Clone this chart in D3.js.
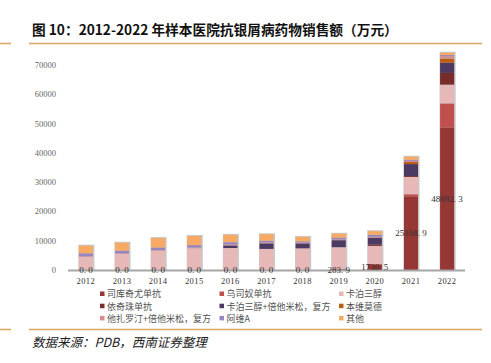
<!DOCTYPE html>
<html>
<head>
<meta charset="utf-8">
<script src="https://cdn.jsdelivr.net/npm/d3@7"></script>
<style>
  body { margin: 0; background: #fff; }
  svg { display: block; }
</style>
</head>
<body>
<svg id="chart" width="491" height="363"></svg>
<script>
const years = ['2012','2013','2014','2015','2016','2017','2018','2019','2020','2021','2022'];
const seriesNames = ['司库奇尤单抗','乌司奴单抗','卡泊三醇','依奇珠单抗','卡泊三醇+倍他米松，复方','本维莫德','他扎罗汀+倍他米松，复方','阿维A','其他'];
const colors = ['#953735','#c0504d','#e6b9b8','#772c2a','#4d3a63','#bb5d12','#d98c8a','#9585c0','#f8a963'];

// values in 万元, one array per series
const secukinumab = [0,0,0,0,0,0,0,283.9,1730.5,25168.9,48692.3];
const ustekinumab = [0,0,0,0,0,0,0,0,300,700,8200];
const calcipotriol = [4500,5500,6600,7400,7500,7200,7400,7500,6200,5900,6400];
const ixekizumab = [0,0,0,0,0,0,0,0,400,300,4000];
const calciBeta = [0,0,0,0,900,1900,1700,2400,2400,4100,3500];
const benvitimod = [0,0,0,0,0,0,0,0,0,700,1400];
const tazaBeta = [200,200,200,300,300,300,300,300,300,400,800];
const acitretin = [1000,900,900,800,800,600,400,600,700,400,400];
const others = [2600,2700,3200,3100,2500,2200,1500,1300,1200,1000,800];
const yTicks = [0,10000,20000,30000,40000,50000,60000,70000];

const allSeries = [secukinumab, ustekinumab, calcipotriol, ixekizumab, calciBeta, benvitimod, tazaBeta, acitretin, others];

const svg = d3.select('#chart');

// title and rules
svg.append('text')
    .attr('x', 32).attr('y', 35)
    .attr('font-family', 'Noto Sans CJK SC')
    .attr('font-weight', 'bold')
    .attr('font-size', 13.7)
    .attr('fill', '#111')
    .text('图 10：2012-2022 年样本医院抗银屑病药物销售额（万元）');

[43.5, 329.5].forEach(yy => {
    svg.append('line').attr('x1', 0).attr('x2', 11).attr('y1', yy).attr('y2', yy)
        .attr('stroke', '#d9a35e').attr('stroke-width', 1.5);
    svg.append('line').attr('x1', 29).attr('x2', 482).attr('y1', yy).attr('y2', yy)
        .attr('stroke', '#d9a35e').attr('stroke-width', 1.5);
});

svg.append('text')
    .attr('x', 32).attr('y', 347)
    .attr('font-family', 'Noto Sans CJK SC')
    .attr('font-style', 'italic')
    .attr('font-size', 12.5)
    .attr('fill', '#222')
    .text('数据来源：PDB，西南证券整理');

// scales
const x = d3.scaleBand()
    .domain(years)
    .range([68, 465])
    .paddingInner(0.61)
    .paddingOuter(0.3);

const y = d3.scaleLinear()
    .domain([0, 70000])
    .range([270, 65]);

// stack
const table = years.map((yr, i) => {
    const row = { year: yr };
    seriesNames.forEach((s, j) => { row[s] = allSeries[j][i]; });
    return row;
});
const stacked = d3.stack().keys(seriesNames)(table);

// bar shadow / outline
svg.append('g').selectAll('rect')
    .data(table)
    .enter().append('rect')
    .attr('x', d => x(d.year) - 0.5)
    .attr('y', d => y(d3.sum(seriesNames, s => d[s])) - 1)
    .attr('width', x.bandwidth() + 2)
    .attr('height', d => 270 - y(d3.sum(seriesNames, s => d[s])) + 1)
    .attr('fill', '#c9c9c9');

const layers = svg.append('g').selectAll('g')
    .data(stacked)
    .enter().append('g')
    .attr('fill', (d, i) => colors[i]);

layers.selectAll('rect')
    .data(d => d)
    .enter().append('rect')
    .attr('x', d => x(d.data.year))
    .attr('y', d => y(d[1]))
    .attr('width', x.bandwidth())
    .attr('height', d => y(d[0]) - y(d[1]));

// y axis labels (no line)
svg.append('g').selectAll('text')
    .data(yTicks)
    .enter().append('text')
    .attr('x', 56)
    .attr('y', d => y(d) + 3)
    .attr('text-anchor', 'end')
    .attr('font-family', 'Liberation Serif')
    .attr('font-size', 8.5)
    .attr('fill', '#666')
    .text(d => d);

// x axis
svg.append('line')
    .attr('x1', 68).attr('x2', 465)
    .attr('y1', 270.5).attr('y2', 270.5)
    .attr('stroke', '#a6a6a6').attr('stroke-width', 1.8);

svg.append('g').selectAll('text')
    .data(years)
    .enter().append('text')
    .attr('x', d => x(d) + x.bandwidth() / 2)
    .attr('y', 284)
    .attr('text-anchor', 'middle')
    .attr('font-family', 'Liberation Serif')
    .attr('font-size', 8.5)
    .attr('fill', '#333')
    .attr('letter-spacing', 0.4)
    .text(d => d);

// data labels of first series
svg.append('g').selectAll('text')
    .data(stacked[0])
    .enter().append('text')
    .attr('x', d => x(d.data.year) + x.bandwidth() / 2)
    .attr('y', d => (y(d[0]) + y(d[1])) / 2 + 3)
    .attr('text-anchor', 'middle')
    .attr('font-family', 'Liberation Serif')
    .attr('font-size', 9)
    .attr('fill', '#333')
    .text(d => d3.format('.1f')(d[1] - d[0]).replace('.', '. '));

// legend
const legend = svg.append('g').selectAll('g')
    .data(seriesNames)
    .enter().append('g')
    .attr('transform', (d, i) => 'translate(' + (100 + (i % 3) * 119.5) + ',' + (294 + Math.floor(i / 3) * 12.2) + ')');

legend.append('rect')
    .attr('x', 0).attr('y', -2.5)
    .attr('width', 4.5).attr('height', 4.5)
    .attr('fill', (d, i) => colors[i]);

legend.append('text')
    .attr('x', 7).attr('y', 3.3)
    .attr('font-family', 'Noto Sans CJK SC')
    .attr('font-size', 9)
    .attr('fill', '#505050')
    .text(d => d);
</script>
</body>
</html>
